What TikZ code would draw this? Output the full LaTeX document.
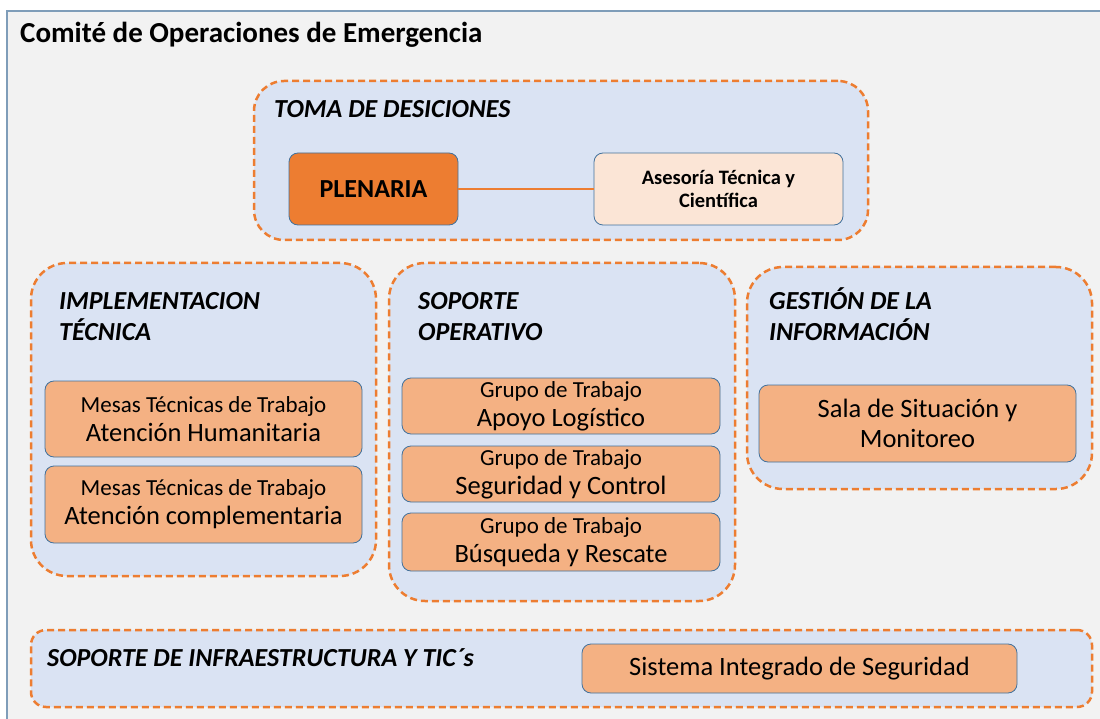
\documentclass[tikz,border=0pt]{standalone}
\usepackage{fontspec}
\setmainfont{Carlito}
\usetikzlibrary{positioning}

\definecolor{panelgray}{HTML}{F2F2F2}
\definecolor{panelline}{HTML}{7F9DB9}
\definecolor{groupfill}{HTML}{DAE3F3}
\definecolor{dashorange}{HTML}{ED7D31}
\definecolor{cellfill}{HTML}{F4B183}
\definecolor{cellline}{HTML}{41719C}
\definecolor{plenfill}{HTML}{ED7D31}
\definecolor{asesfill}{HTML}{FBE5D6}

\newcommand\cellsmall{\fontsize{23}{29}\selectfont}
\newcommand\cellbig{\fontsize{26.5}{30}\selectfont}

\begin{document}
\begin{tikzpicture}[x=1pt,y=-1pt]

\def\headsize{\fontsize{26}{31}\selectfont}

\tikzset{group/.style = {draw=dashorange, line width=2.5pt, dash pattern=on 7pt off 4pt, fill=groupfill, rounded corners=36pt, inner sep=0pt},
         cell/.style = {draw=cellline, line width=0.8pt, fill=cellfill, rounded corners=9pt, align=center, inner sep=0pt, font=\fontsize{26.5}{29}\selectfont},
         heading/.style = {anchor=base west, align=left, inner sep=0pt, font=\headsize\bfseries\itshape}}

\useasboundingbox (0,0) rectangle (1100,719);
\fill[white] (0,0) rectangle (1100,719);
\draw[fill=panelgray, draw=panelline, line width=2pt] (7,11) rectangle (1110,730);

\node[anchor=base west, inner sep=0pt, font=\fontsize{29}{34}\selectfont\bfseries] (title) at (20,43) {Comité de Operaciones de Emergencia};

% toma de desiciones
\node[group, rounded corners=30pt, minimum width=614pt, minimum height=159pt] (toma) at (561,160.5) {};
\node[heading] (tomah) at (274,118) {TOMA DE DESICIONES};
\node[cell, fill=plenfill, minimum width=169pt, minimum height=72pt, font=\fontsize{26}{29}\selectfont\bfseries] (plenaria) at (373.5,189) {PLENARIA};
\node[cell, fill=asesfill, minimum width=249pt, minimum height=72pt, font=\fontsize{20.5}{23}\selectfont\bfseries] (asesoria) at (718.5,189) {Asesoría Técnica y\\Científica};
\draw[dashorange, line width=2.5pt] (plenaria) -- (asesoria);

% implementacion tecnica
\node[group, minimum width=345pt, minimum height=313pt] (impl) at (203.5,419.5) {};
\node[heading] (implh) at (59,340) {IMPLEMENTACION\\TÉCNICA};
\node[cell, minimum width=317pt, minimum height=76pt] (mesas1) at (203.5,419) {\cellsmall Mesas Técnicas de Trabajo\\Atención Humanitaria};
\node[cell, minimum width=317pt, minimum height=77pt] (mesas2) at (203.5,504.5) {\cellsmall Mesas Técnicas de Trabajo\\Atención complementaria};

% soporte operativo
\node[group, minimum width=346pt, minimum height=338pt] (soporte) at (562,432) {};
\node[heading] (soporteh) at (418,340) {SOPORTE\\OPERATIVO};
\node[cell, minimum width=318pt, minimum height=56pt] (grupo1) at (561,406) {\cellsmall Grupo de Trabajo\\Apoyo Logístico};
\node[cell, minimum width=318pt, minimum height=56pt] (grupo2) at (561,474) {\cellsmall Grupo de Trabajo\\Seguridad y Control};
\node[cell, minimum width=318pt, minimum height=58pt] (grupo3) at (561,542) {\cellsmall Grupo de Trabajo\\Búsqueda y Rescate};

% gestion de la informacion
\node[group, minimum width=345pt, minimum height=222pt] (gestion) at (919.5,378) {};
\node[heading] (gestionh) at (769,340) {GESTIÓN DE LA\\INFORMACIÓN};
\node[cell, minimum width=317pt, minimum height=77pt, font=\cellbig] (sala) at (917.5,423.5) {Sala de Situación y\\Monitoreo};

% soporte de infraestructura
\node[group, rounded corners=15pt, minimum width=1061pt, minimum height=77pt] (infra) at (561.5,668.5) {};
\node[heading] (infrah) at (47,666) {SOPORTE DE INFRAESTRUCTURA Y TIC´s};
\node[cell, minimum width=435pt, minimum height=49pt, font=\cellbig] (sistema) at (799.5,668.5) {Sistema Integrado de Seguridad};

\end{tikzpicture}
\end{document}
